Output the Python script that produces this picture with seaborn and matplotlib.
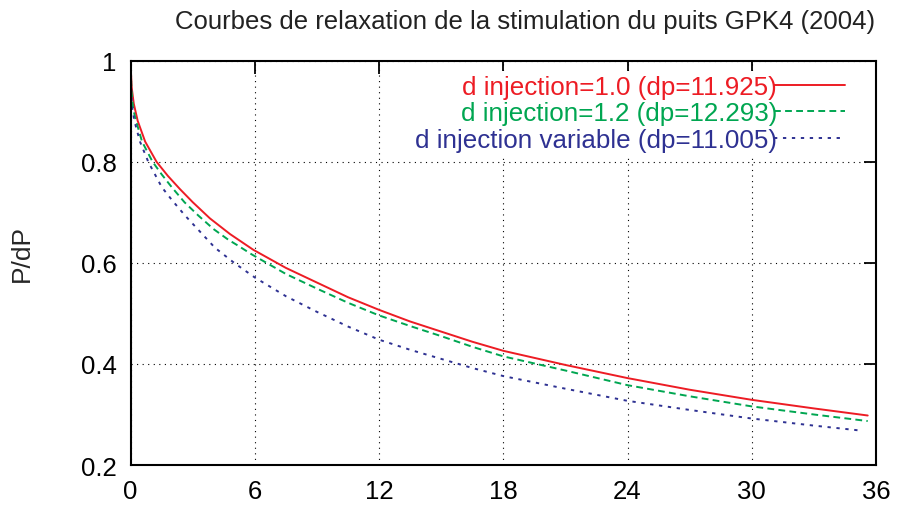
import matplotlib
matplotlib.use("Agg")
import matplotlib.pyplot as plt
import pandas as pd
import seaborn as sns
from matplotlib.ticker import FixedLocator, FuncFormatter

sns.set_theme(style="white")
plt.rcParams["font.family"] = ["Liberation Sans", "DejaVu Sans"]

# Relaxation curves P/dP versus time
x_red = [0.0, 0.05, 0.15, 0.34, 0.7, 1.25, 1.8, 2.38, 3.0, 3.83, 4.8, 5.92, 7.5, 9.0,
         10.5, 12.0, 13.5, 15.0, 16.5, 18.0, 21.0, 24.0, 27.0, 30.0, 33.0, 35.6]
y_red = [0.990, 0.947, 0.915, 0.881, 0.840, 0.800, 0.772, 0.746, 0.720, 0.688, 0.657, 0.626,
         0.590, 0.561, 0.532, 0.507, 0.484, 0.464, 0.444, 0.426, 0.398, 0.372, 0.349, 0.329,
         0.312, 0.298]

x_green = [0.0, 0.04, 0.12, 0.26, 0.55, 1.06, 1.5, 1.98, 2.6, 3.26, 4.0, 4.71, 5.19, 5.84,
           7.5, 9.0, 10.5, 12.0, 13.5, 15.0, 16.5, 18.0, 21.0, 24.0, 27.0, 30.0, 33.0, 35.6]
y_green = [0.985, 0.940, 0.905, 0.881, 0.840, 0.800, 0.775, 0.750, 0.720, 0.694, 0.667, 0.646,
           0.634, 0.617, 0.578, 0.549, 0.521, 0.496, 0.475, 0.455, 0.434, 0.415, 0.387, 0.358,
           0.336, 0.316, 0.300, 0.287]

x_blue = [0.0, 0.03, 0.08, 0.18, 0.45, 0.85, 1.5, 2.0, 2.62, 3.3, 4.07, 5.0, 6.0, 7.5, 9.0,
          10.5, 12.0, 13.5, 15.0, 16.5, 18.0, 21.0, 24.0, 27.0, 30.0, 33.0, 35.3]
y_blue = [0.980, 0.935, 0.905, 0.881, 0.840, 0.800, 0.750, 0.724, 0.694, 0.664, 0.630, 0.600,
          0.571, 0.534, 0.503, 0.474, 0.448, 0.428, 0.410, 0.392, 0.376, 0.351, 0.327, 0.309,
          0.292, 0.278, 0.268]

labels = ["d injection=1.0 (dp=11.925)",
          "d injection=1.2 (dp=12.293)",
          "d injection variable (dp=11.005)"]
colors = ["#ED1C24", "#00A651", "#2E3192"]
dash_styles = ["", (3.5, 2.2), (1.7, 2.9)]

x_ticks = [0, 6, 12, 18, 24, 30, 36]
y_ticks = [0.2, 0.4, 0.6, 0.8, 1.0]

df = pd.concat([
    pd.DataFrame({"t": x_red, "p": y_red, "serie": labels[0]}),
    pd.DataFrame({"t": x_green, "p": y_green, "serie": labels[1]}),
    pd.DataFrame({"t": x_blue, "p": y_blue, "serie": labels[2]}),
], ignore_index=True)

fig = plt.figure(figsize=(8.98, 5.06), dpi=100)
ax = fig.add_axes([0.1455, 0.079, 0.8300, 0.799])

sns.lineplot(data=df, x="t", y="p", hue="serie", style="serie",
             palette=dict(zip(labels, colors)),
             dashes=dict(zip(labels, dash_styles)),
             linewidth=1.4, estimator=None, sort=False, legend=False, ax=ax)

ax.set_xlim(0, 36)
ax.set_ylim(0.2, 1.0)
ax.xaxis.set_major_locator(FixedLocator(x_ticks))
ax.yaxis.set_major_locator(FixedLocator(y_ticks))
ax.yaxis.set_major_formatter(FuncFormatter(lambda v, _: f"{v:g}"))
ax.set_xlabel("")
ax.set_ylabel("")

ax.grid(True, which="major", color="black", linestyle=(0, (1, 4)), linewidth=0.8)
ax.tick_params(axis="both", direction="in", length=9, width=1.3, colors="black",
               top=True, right=True, labelsize=18.5)
ax.tick_params(axis="x", pad=10)
ax.tick_params(axis="y", pad=10)
for s in ax.spines.values():
    s.set_visible(True)
    s.set_color("black")
    s.set_linewidth(1.5)

handles = ax.get_lines()[:3]
leg = ax.legend(handles, labels, loc="upper right", markerfirst=False,
                labelcolor="linecolor", fontsize=18.7, frameon=True,
                handlelength=2.7, handletextpad=-0.1, labelspacing=0.1,
                borderaxespad=0.0, borderpad=0.15, bbox_to_anchor=(0.963, 0.975))
leg.get_frame().set_facecolor("white")
leg.get_frame().set_edgecolor("none")
leg.get_frame().set_alpha(1.0)

fig.text(0.585, 0.957, "Courbes de relaxation de la stimulation du puits GPK4 (2004)",
         ha="center", va="center", fontsize=18.5, color="#222222")
fig.text(0.024, 0.50, "P/dP", rotation=90, ha="center", va="center", fontsize=19)

fig.savefig("out.png", dpi=100, facecolor="white")
